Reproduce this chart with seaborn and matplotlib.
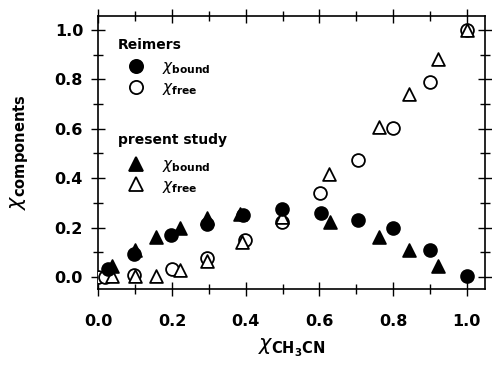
import matplotlib
matplotlib.use("Agg")
import matplotlib.pyplot as plt
from matplotlib.lines import Line2D
from matplotlib.ticker import MultipleLocator, FormatStrFormatter
import seaborn as sns

sns.set_theme(style="white", rc={'text.color': 'black', 'axes.labelcolor': 'black',
                                 'xtick.color': 'black', 'ytick.color': 'black',
                                 'axes.edgecolor': 'black'})
plt.rcParams['font.family'] = ['DejaVu Sans']
plt.rcParams['mathtext.fontset'] = 'dejavusans'

# Reimers data
reimers_bound_x = [0.027, 0.097, 0.197, 0.296, 0.393, 0.498, 0.604, 0.706, 0.801, 0.900, 1.000]
reimers_bound_y = [0.034, 0.092, 0.168, 0.215, 0.251, 0.276, 0.260, 0.231, 0.197, 0.109, 0.002]
reimers_free_x = [0.000, 0.018, 0.097, 0.199, 0.296, 0.398, 0.498, 0.601, 0.706, 0.801, 0.900, 1.000]
reimers_free_y = [0.000, 0.000, 0.008, 0.032, 0.078, 0.150, 0.224, 0.340, 0.472, 0.604, 0.790, 1.000]

# present study data
present_bound_x = [0.036, 0.100, 0.156, 0.221, 0.296, 0.385, 0.629, 0.763, 0.842, 0.923]
present_bound_y = [0.045, 0.108, 0.162, 0.200, 0.240, 0.255, 0.221, 0.160, 0.110, 0.045]
present_free_x = [0.036, 0.100, 0.156, 0.221, 0.296, 0.389, 0.498, 0.627, 0.763, 0.842, 0.923, 1.000]
present_free_y = [0.004, 0.004, 0.002, 0.028, 0.066, 0.143, 0.244, 0.415, 0.606, 0.740, 0.883, 1.000]

group_titles = ['Reimers', 'present study']
entry_labels = [r'$\chi_{\mathbf{bound}}$', r'$\chi_{\mathbf{free}}$']

fig = plt.figure(figsize=(4.92, 3.71), dpi=100)
ax = fig.add_axes([0.200, 0.221, 0.786, 0.736])

ms = 85
lw = 1.3
sns.scatterplot(x=reimers_free_x, y=reimers_free_y, marker='o', s=ms, facecolor='white',
                edgecolor='black', linewidth=lw, ax=ax, zorder=3)
sns.scatterplot(x=present_free_x, y=present_free_y, marker='^', s=ms, facecolor='white',
                edgecolor='black', linewidth=lw, ax=ax, zorder=3)
sns.scatterplot(x=reimers_bound_x, y=reimers_bound_y, marker='o', s=ms, color='black',
                edgecolor='black', linewidth=lw, ax=ax, zorder=4)
sns.scatterplot(x=present_bound_x, y=present_bound_y, marker='^', s=ms, color='black',
                edgecolor='black', linewidth=lw, ax=ax, zorder=4)

ax.set_xlim(0.0, 1.05)
ax.set_ylim(-0.049, 1.057)
ax.xaxis.set_major_locator(MultipleLocator(0.2))
ax.xaxis.set_minor_locator(MultipleLocator(0.1))
ax.yaxis.set_major_locator(MultipleLocator(0.2))
ax.yaxis.set_minor_locator(MultipleLocator(0.1))
ax.tick_params(which='both', direction='inout', top=True, right=True, bottom=True, left=True,
               color='black', labelcolor='black', width=1.0)
ax.tick_params(which='major', length=10)
ax.tick_params(which='minor', length=7)
ax.tick_params(axis='x', which='major', pad=13, labelsize=11.5)
ax.tick_params(axis='y', which='major', pad=6, labelsize=11.5)
ax.xaxis.set_major_formatter(FormatStrFormatter('%.1f'))
ax.yaxis.set_major_formatter(FormatStrFormatter('%.1f'))
for lab in ax.get_xticklabels() + ax.get_yticklabels():
    lab.set_fontweight('bold')
for s in ax.spines.values():
    s.set_color('black')
    s.set_linewidth(1.2)

ax.set_xlabel(r'$\chi_{\mathbf{CH}_{\mathbf{3}}\mathbf{CN}}$', fontsize=15, labelpad=6, color='black')
ax.set_ylabel(r'$\chi_{\mathbf{components}}$', fontsize=15, labelpad=17, color='black')

def handle(marker, filled):
    return Line2D([], [], linestyle='none', marker=marker, markersize=9.5,
                  markerfacecolor='black' if filled else 'white', markeredgecolor='black',
                  markeredgewidth=lw)

common = dict(loc='upper left', frameon=False, fontsize=11, borderpad=0, borderaxespad=0,
              handlelength=2.3, handletextpad=0.55, labelspacing=0.25)
leg1 = ax.legend([handle('o', True), handle('o', False)], entry_labels,
                 bbox_to_anchor=(0.052, 0.841), **common)
ax.add_artist(leg1)
leg2 = ax.legend([handle('^', True), handle('^', False)], entry_labels,
                 bbox_to_anchor=(0.052, 0.484), **common)
for lg in (leg1, leg2):
    for t in lg.get_texts():
        t.set_color('black')

ax.text(0.05, 0.894, group_titles[0], transform=ax.transAxes, fontsize=10, fontweight='bold',
        ha='left', va='center', color='black')
ax.text(0.05, 0.546, group_titles[1], transform=ax.transAxes, fontsize=10, fontweight='bold',
        ha='left', va='center', color='black')

fig.savefig('out.png', dpi=100)
